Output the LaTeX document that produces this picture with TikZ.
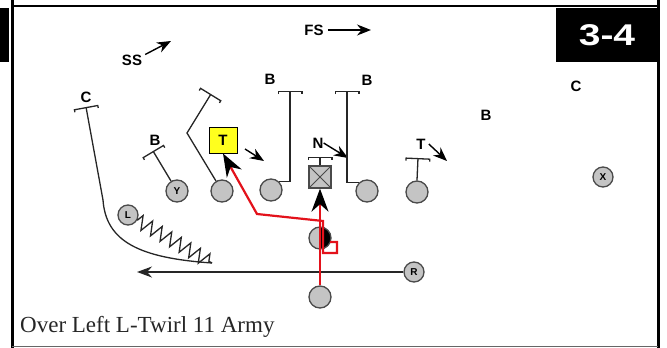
\documentclass[tikz,border=0pt]{standalone}
\usepackage{fontspec}
\setmainfont{Liberation Serif}
\setsansfont{Liberation Sans}
\usetikzlibrary{arrows.meta, calc, positioning, decorations.pathmorphing}
\definecolor{spieler}{HTML}{C4C4C4}
\definecolor{rand}{HTML}{4A4A4A}
\definecolor{laufrot}{HTML}{E3121B}
\definecolor{markgelb}{HTML}{FFFF1E}

\begin{document}
\begin{tikzpicture}[x=1pt, y=-1pt,
    off/.style={circle, draw=rand, fill=spieler, line width=1.3pt, minimum size=22pt, inner sep=0pt,
      font=\sffamily\bfseries\fontsize{10}{10}\selectfont},
    abw/.style={font=\sffamily\bfseries\fontsize{15}{15}\selectfont, inner sep=0pt},
    block/.style={line width=1.3pt, black!85, -{Bracket[width=25pt, length=2.5pt, line width=1.3pt]}},
    zug/.style={line width=1.4pt, -{Stealth[length=14pt, width=11pt]}},
    rot/.style={line width=2.2pt, laufrot, -{Stealth[length=23pt, width=17pt, color=black]}}]

  \useasboundingbox (0,0) rectangle (667,348);

  % Rahmen
  \fill (0,8) rectangle (9,62);
  \draw[line width=3pt] (12,0) -- (12,348);
  \draw[line width=2.5pt] (12,6) -- (658,6);
  \draw[line width=3pt] (658,0) -- (658,348);
  \draw[line width=1pt, black!60] (12,346) -- (658,346);
  \node[fill=black, text=white, minimum width=102pt, minimum height=54pt,
    font=\sffamily\bfseries\fontsize{30}{30}\selectfont] (formation) at (607,35) {\scalebox{1.3}[1]{3-4}};

  % Angriff
  \node[off] (y) at (177,191) {Y};
  \node[off] (lg) at (222,191) {};
  \node[off] (lt) at (271,190) {};
  \node[draw=rand, fill=spieler, line width=1.3pt, minimum size=22pt, inner sep=0pt] (ctr) at (320,177) {};
  \draw[rand, line width=1pt] (ctr.north west) -- (ctr.south east) (ctr.north east) -- (ctr.south west);
  \node[off] (rg) at (367,191) {};
  \node[off] (rt) at (417,192) {};
  \node[off, minimum size=20pt] (x) at (603,177) {X};
  \node[off, minimum size=20pt] (l) at (128,215) {L};
  \node[off, minimum size=20pt] (r) at (414,272) {R};
  \node[off, path picture={\fill[black] (path picture bounding box.north) rectangle (path picture bounding box.south east);}] (qb) at (320,238) {};
  \node[off] (rb) at (320,297) {};

  % Abwehr
  \node[abw] (fs) at (314,30) {FS};
  \node[abw] (ss) at (132,60) {SS};
  \node[abw] (cl) at (86,97) {C};
  \node[abw] (bl) at (155,140) {B};
  \node[abw, draw=black, fill=markgelb, line width=1pt, minimum width=28pt, minimum height=26pt] (tl) at (223,140) {T};
  \node[abw] (bm) at (270,79) {B};
  \node[abw] (br) at (367,80) {B};
  \node[abw] (n) at (318,143) {N};
  \node[abw] (tr) at (421,144) {T};
  \node[abw] (bb) at (486,115) {B};
  \node[abw] (cr) at (576,86) {C};

  % Ziele
  \coordinate (fsziel) at (371,30);
  \coordinate (ssziel) at (171,41);
  \coordinate (tlstart) at (245,149);
  \coordinate (tlziel) at (264,161);
  \coordinate (nziel) at (348,158);
  \coordinate (trziel) at (447,161);
  \coordinate (clbar) at (86,107);
  \coordinate (blbar) at (153,151);
  \coordinate (lgbar) at (211,94);
  \coordinate (ltbar) at (290,91);
  \coordinate (rgbar) at (347,91);
  \coordinate (ctrbar) at (320,157);
  \coordinate (rtbar) at (418,158);
  \coordinate (lmot) at (212,263);
  \coordinate (rziel) at (137,272);

  % Pfeile Abwehr
  \draw[zug] ([xshift=4pt]fs.east) -- (fsziel);
  \draw[zug] ([xshift=3pt]ss.north east) -- (ssziel);
  \draw[zug] (tlstart) -- (tlziel);
  \draw[zug] (n.east) -- (nziel);
  \draw[zug] ([xshift=3pt]tr.east) -- (trziel);

  % Blocks
  \draw[block] (y) -- (blbar);
  \draw[block] (lg) -- (187,133) -- (lgbar);
  \draw[block] (lt.north east) -| (ltbar);
  \draw[block] (rg.north west) -| (rgbar);
  \draw[block] (ctr.north) -- (ctrbar);
  \draw[block] (rt.north) -- (rtbar);

  % Motion L, dann Block auf C
  \draw[line width=1.3pt, black!85, decorate,
    decoration={zigzag, segment length=11pt, amplitude=7pt, post length=3pt}] (l) -- (lmot);
  \draw[block] (lmot) .. controls (140,258) and (106,242) .. (103,200) -- (clbar);

  % Motion R
  \draw[line width=1.3pt, black!85, -{Stealth[length=15pt, width=11pt]}] (r) -- (rziel);

  % Laufwege
  \draw[rot] (rb.north) -- (ctr.south);
  \draw[rot] (330,242) -- (337,242) -- (337,253) -- (323,253) -- (323,221) -- (257,214) -- (tl.south);

  % Titel
  \node[anchor=base west, inner sep=0pt, text=black!85, font=\fontsize{23}{23}\selectfont]
    (titel) at (20,332) {Over Left L-Twirl 11 Army};
\end{tikzpicture}
\end{document}
